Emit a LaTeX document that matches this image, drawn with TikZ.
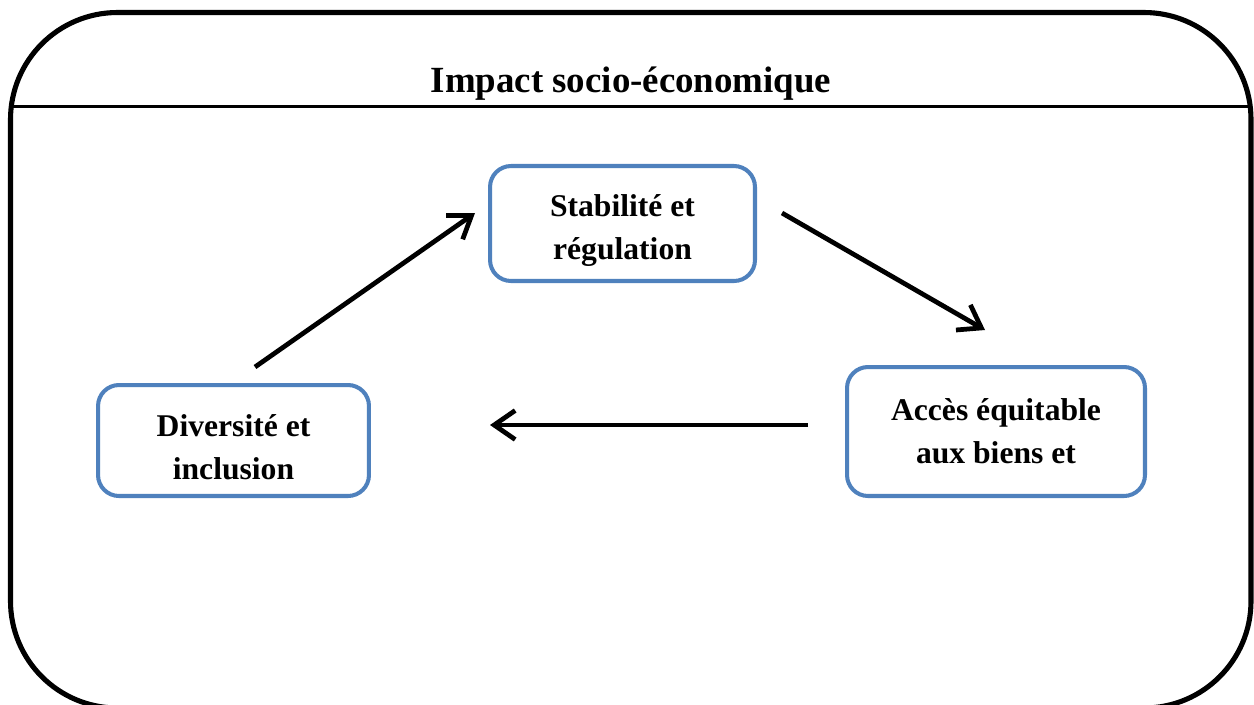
\documentclass[tikz,border=0pt]{standalone}
\usepackage{fontspec}
\setmainfont{Liberation Serif}
\usetikzlibrary{arrows.meta,positioning}
\definecolor{impBlue}{HTML}{4F81BD}
\tikzset{
  impframe/.style={draw=black,line width=2.9pt,rounded corners=2.14cm},
  imprule/.style={draw=black,line width=1.2pt},
  imptitle/.style={font=\fontsize{21}{25}\selectfont\bfseries,inner sep=0pt},
  impbox/.style={draw=impBlue,line width=2.3pt,rounded corners=0.42cm,fill=white,
                 align=center,inner sep=0pt,
                 font=\fontsize{18}{24.5}\selectfont\bfseries},
  imparrow/.style={-{Straight Barb[length=4.2mm,width=5.8mm]},line width=2.7pt,black}
}
\begin{document}
\begin{tikzpicture}[x=0.02cm,y=-0.02cm]
  \useasboundingbox (0,0) rectangle (1254,704);
  \begin{scope}
    \clip (0,0) rectangle (1254,704);
    \draw[impframe] (10.5,12.5) rectangle (1251,708);
  \end{scope}
  \draw[imprule] (11.3,106.5) -- (1250.2,106.5);
  \node[imptitle] (title) at (631,84) {Impact socio-économique};

  \node[impbox,minimum width=5.3cm,minimum height=2.3cm] (stab) at (622.5,223.5)
    {\rule{0pt}{20pt}Stabilité et\\régulation};
  \node[impbox,minimum width=5.96cm,minimum height=2.58cm] (acces) at (996,431.5)
    {Accès équitable\\aux biens et};
  \node[impbox,minimum width=5.42cm,minimum height=2.22cm] (div) at (233.5,440.5)
    {\rule{0pt}{20pt}Diversité et\\inclusion};

  % arrows
  \coordinate (divout) at (255,367);
  \coordinate (stabin) at (475,213);
  \coordinate (stabout) at (782,213);
  \coordinate (accesin) at (985,330);
  \coordinate (accesout) at (808,425);
  \coordinate (divin) at (490,425);
  \draw[imparrow] (divout) -- (stabin);
  \draw[imparrow] (stabout) -- (accesin);
  \draw[imparrow] (accesout) -- (divin);
\end{tikzpicture}
\end{document}
